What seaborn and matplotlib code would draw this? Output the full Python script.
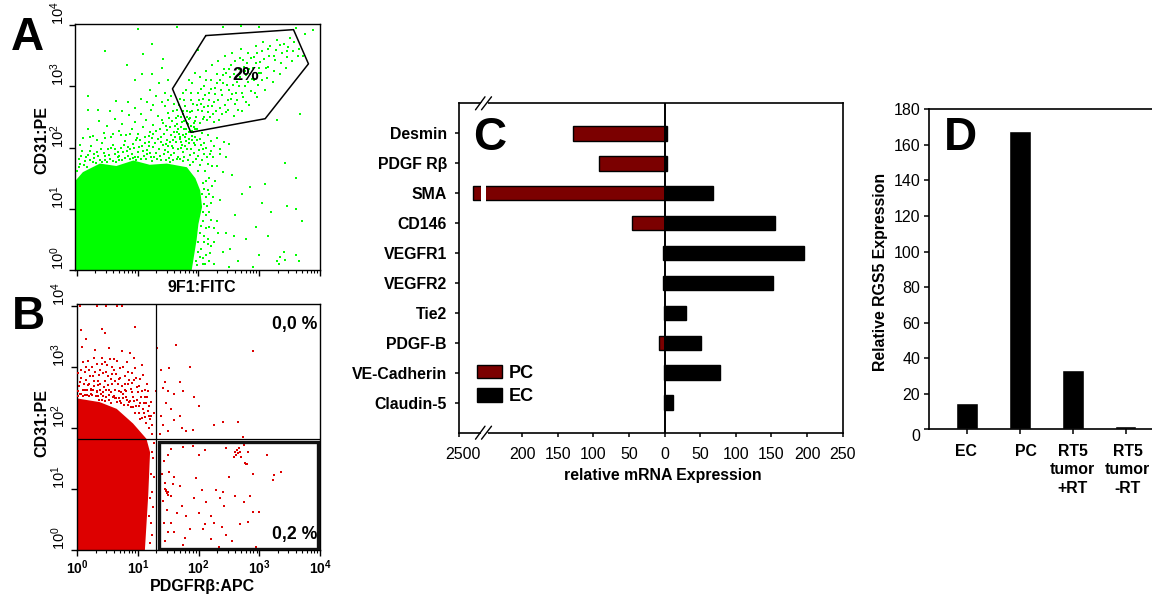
import numpy as np
import pandas as pd
import matplotlib
matplotlib.use("Agg")
import matplotlib.pyplot as plt
import seaborn as sns
from matplotlib.lines import Line2D
from matplotlib.patches import Rectangle
from matplotlib.ticker import FixedLocator, LogLocator, NullFormatter, NullLocator
from matplotlib.transforms import ScaledTranslation

# --- panel A, all values in log10 units ---
a_block_x = [-.03, -.03, .1, .38, .65, .93, 1.2, 1.48, 1.81, 1.95, 2.03, 2.06, 2.0, 1.97, 1.89, -.03]
a_block_y = [0, 1.45, 1.6, 1.74, 1.7, 1.79, 1.72, 1.74, 1.68, 1.5, 1.3, 1.03, .75, .49, 0, 0]
a_gate_x = [2.122, 3.564, 3.81, 3.098, 1.875, 1.573]
a_gate_y = [3.832, 3.929, 3.37, 2.473, 2.25, 2.962]
a_band = [(.03,1.82),(.08,1.95),(.13,1.78),(.19,1.88),(.24,2.02),(.29,1.83),(.33,1.93),(.38,1.79),(.42,2.08),(.47,1.87),
          (.51,1.97),(.55,1.81),(.6,2.05),(.63,1.9),(.68,1.84),(.72,2.0),(.76,1.93),(.8,2.11),(.84,1.86),(.88,1.98),
          (.92,2.06),(.96,1.84),(1.0,1.93),(1.04,2.13),(1.07,2.02),(1.11,1.87),(1.15,1.96),(1.19,2.09),(1.22,1.84),(1.26,2.01),
          (1.3,1.92),(1.33,2.14),(1.37,1.86),(1.41,2.05),(1.45,1.96),(1.49,2.12),(1.52,1.83),(1.56,2.02),(1.6,1.92),(1.63,2.1),
          (1.67,1.85),(1.71,2.0),(1.75,1.93),(1.79,2.11),(1.83,1.8),(1.87,1.97),(1.91,1.76),(1.95,2.04),(1.99,1.87),(2.03,1.72),
          (2.07,1.98),(2.11,1.62),(2.14,1.84),(2.18,1.5),(2.22,1.7),(.1,2.15),(.19,2.3),(.27,2.19),(.36,2.43),(.44,2.24),
          (.5,2.36),(.57,2.18),(.63,2.47),(.69,2.27),(.75,2.38),(.81,2.2),(.86,2.53),(.9,2.3),(.95,2.42),(1.0,2.22),
          (1.05,2.55),(1.09,2.33),(1.14,2.46),(1.18,2.19),(1.22,2.62),(1.26,2.37),(1.3,2.27),(1.34,2.51),(1.38,2.18),(1.42,2.4),
          (1.45,2.68),(1.48,2.29),(1.52,2.48),(1.55,2.2),(1.58,2.6),(1.61,2.36),(1.64,2.25),(1.67,2.52),(1.7,2.17),(1.73,2.42),
          (1.76,2.31),(1.79,2.22),(1.82,2.5),(1.85,2.14),(1.88,2.35),(1.91,2.26),(1.94,2.18),(1.98,2.31),(2.02,2.14),(2.06,2.24),
          (2.1,2.08),(2.15,2.2),(2.2,2.11),(2.26,2.03),(2.3,2.16),(2.36,1.98),(2.42,2.09),(2.5,2.06),(.05,1.74),(.22,1.79),
          (.46,1.8),(.7,1.79),(.98,1.79),(1.24,1.78),(1.54,1.77),(1.74,1.78),(1.86,1.72),(2.0,1.62),(2.08,1.42),(2.12,1.2),
          (1.44,2.22),(1.5,2.03),(1.58,2.12),(1.66,2.3),(1.72,2.1),(1.78,2.02),(1.84,2.26),(1.9,2.12),(1.36,2.3),(1.2,2.25)]
a_band_dense = [(.01,1.62),(.04,1.68),(.07,1.86),(.11,1.72),(.15,1.84),(.17,1.69),(.21,1.95),(.26,1.76),(.28,1.9),(.31,1.75),
                (.35,1.86),(.39,1.98),(.41,1.77),(.44,1.92),(.49,1.76),(.53,1.88),(.56,2.0),(.59,1.78),(.62,1.97),(.65,1.77),
                (.67,1.93),(.7,1.86),(.74,1.8),(.77,2.05),(.79,1.83),(.82,1.95),(.85,2.01),(.87,1.81),(.9,1.9),(.93,1.83),
                (.94,2.0),(.97,2.12),(1.01,1.85),(1.03,2.01),(1.06,1.82),(1.09,1.95),(1.12,2.08),(1.13,1.81),(1.16,1.9),(1.18,2.02),
                (1.21,1.92),(1.24,2.16),(1.27,1.85),(1.29,2.07),(1.32,1.82),(1.35,1.98),(1.38,2.1),(1.39,1.8),(1.43,1.9),(1.46,2.06),
                (1.47,1.8),(1.5,1.93),(1.53,2.09),(1.55,1.88),(1.58,1.8),(1.59,2.0),(1.62,2.18),(1.64,1.82),(1.66,1.97),(1.69,2.14),
                (1.7,1.82),(1.73,2.05),(1.77,1.84),(1.78,2.18),(1.81,1.98),(1.84,2.07),(1.86,1.88),(1.89,2.19),(1.92,1.92),(1.93,2.08),
                (1.96,1.82),(1.98,2.13),(2.01,1.96),(2.04,2.05),(2.06,1.8),(2.09,1.9),(2.13,2.0),(2.16,1.74),(2.19,1.9),(2.24,1.85),
                (1.4,2.45),(1.46,2.36),(1.5,2.57),(1.54,2.33),(1.57,2.43),(1.6,2.25),(1.63,2.48),(1.65,2.39),(1.68,2.22),(1.71,2.33),
                (1.74,2.55),(1.75,2.21),(1.77,2.44),(1.8,2.3),(1.81,2.6),(1.83,2.38),(1.86,2.48),(1.89,2.28),(1.92,2.4),(1.95,2.3),
                (1.25,2.22),(1.12,2.18),(.99,2.16),(.87,2.23),(.72,2.2),(.6,2.22),(.47,2.16),(.33,2.12),(.22,2.17),(.06,2.05)]
a_upper = [(.19,2.84),(.18,2.62),(.47,3.58),(1.01,3.94),(.83,3.35),(1.23,3.7),(1.09,3.53),(1.41,3.45),(.65,2.77),(.96,3.1),
           (1.07,3.2),(1.23,3.2),(1.4,3.3),(1.35,3.05),(1.3,2.85),(1.2,2.95),(1.15,2.75),(1.45,2.9),(1.5,3.1),(1.25,2.7),
           (1.05,2.8),(.95,2.65),(.85,2.75),(.75,2.6),(1.55,2.85),(1.6,2.72),(1.5,2.78),(1.4,2.74),(.55,2.6),(.35,2.62),
           (1.65,3.98),(2.4,3.97),(2.7,3.99),(3.0,3.98),(3.75,3.85),(3.88,3.92),(3.6,3.95),(2.0,3.6)]
a_gate_dots = [(1.65,2.62),(1.7,2.8),(1.72,2.5),(1.78,2.68),(1.8,2.95),(1.82,2.4),(1.86,2.58),(1.88,2.78),(1.9,3.05),(1.92,2.34),
               (1.96,2.5),(1.97,2.7),(2.0,2.9),(2.02,3.15),(2.03,2.4),(2.06,2.6),(2.08,2.8),(2.1,3.0),(2.12,3.25),(2.14,2.46),
               (2.16,2.68),(2.18,2.9),(2.2,3.1),(2.22,3.35),(2.24,2.55),(2.26,2.75),(2.28,2.98),(2.3,3.2),(2.32,3.42),(2.34,2.45),
               (2.36,2.65),(2.38,2.86),(2.4,3.05),(2.42,3.28),(2.44,3.5),(2.46,2.58),(2.48,2.78),(2.5,2.95),(2.52,3.15),(2.54,3.35),
               (2.56,3.55),(2.58,2.52),(2.6,2.72),(2.62,2.9),(2.64,3.08),(2.66,3.28),(2.68,3.46),(2.7,3.62),(2.72,2.6),(2.74,2.82),
               (2.76,3.0),(2.78,3.18),(2.8,3.38),(2.82,3.54),(2.84,2.7),(2.86,2.92),(2.88,3.12),(2.9,3.3),(2.92,3.48),(2.94,3.66),
               (2.96,2.82),(2.98,3.02),(3.0,3.22),(3.02,3.4),(3.04,3.58),(3.06,3.72),(3.1,2.95),(3.12,3.14),(3.14,3.32),(3.16,3.5),
               (3.18,3.66),(3.22,3.08),(3.24,3.26),(3.26,3.44),(3.28,3.6),(3.3,3.76),(3.34,3.2),(3.36,3.38),(3.38,3.55),(3.4,3.7),
               (3.44,3.3),(3.46,3.48),(3.48,3.64),(3.5,3.8),(3.54,3.42),(3.56,3.58),(3.58,3.72),(3.64,3.5),(3.66,3.62),(3.72,3.5),
               (1.9,2.6),(2.05,2.72),(2.15,2.58),(2.25,2.42),(2.35,3.1),(2.45,3.22),(2.55,2.88),(2.65,2.62),(2.75,3.32),(2.85,3.2),
               (2.95,3.38),(3.05,3.1),(3.15,3.62),(3.25,3.5),(3.35,3.68),(3.45,3.58),(1.75,2.9),(1.85,3.1),(1.95,3.22),(2.1,2.5),
               (1.68,2.7),(1.74,2.6),(1.76,2.78),(1.84,2.47),(1.87,2.9),(1.91,2.72),(1.94,2.44),(1.99,2.62),(2.01,2.78),(2.04,2.96),
               (2.07,2.47),(2.09,2.66),(2.11,2.86),(2.13,3.1),(2.17,2.78),(2.19,2.5),(2.21,2.96),(2.23,2.68),(2.27,2.88),(2.29,2.6),
               (2.31,3.05),(2.33,2.78),(2.37,2.95),(2.39,2.55),(2.41,3.18),(2.43,2.7),(2.47,3.02),(2.49,2.62),(2.51,3.28),(2.53,2.8),
               (2.57,3.02),(2.59,3.2),(2.61,3.42),(2.63,2.78),(2.67,3.0),(2.69,3.16),(2.71,2.9),(2.73,3.44),(2.77,3.25),(2.79,2.74),
               (2.81,3.08),(2.83,3.28),(2.87,3.46),(2.91,3.1),(2.93,2.9),(2.97,3.55),(2.99,3.3),(3.03,3.22),(3.08,3.45),(3.11,3.3)]
a_right = [(2.15,1.3),(2.2,1.1),(2.12,.9),(2.18,.7),(2.1,.55),(2.2,.4),(2.13,.25),(2.25,.1),(2.08,.1),(2.3,.8),
           (2.35,1.15),(2.28,1.45),(2.4,1.6),(2.45,.6),(2.52,.35),(2.6,.9),(2.65,.15),(2.72,1.25),(2.78,.5),(2.85,1.35),
           (2.9,.05),(2.95,.7),(3.0,.25),(3.05,1.1),(3.1,1.4),(3.15,.55),(3.2,.95),(3.3,.15),(3.33,.1),(3.4,.3),
           (3.35,.22),(3.42,.17),(3.45,1.05),(3.6,1.0),(3.6,.25),(3.65,.15),(3.7,.8),(3.6,1.5),(3.42,1.75),(3.3,2.46),
           (3.67,2.55),(2.55,1.55),(2.35,1.9),(2.45,1.85),(2.2,1.95),(2.3,1.7),(2.25,.45),(2.4,.3),(2.5,.05),(2.32,.6),
           (2.17,.15),(2.58,.55),(2.05,.35),(2.08,.8),(2.12,1.45),(2.03,.6),(2.06,1.25),(2.09,1.08),(2.1,1.32),(2.14,1.05),
           (2.07,.95),(2.13,.68),(2.05,.72),(2.09,.45),(2.15,.42),(2.03,.22),(2.07,.2),(2.11,.1),(2.16,.5),(1.99,.3),
           (1.96,.15),(1.98,.08),(2.0,.45),(2.18,1.25),(2.22,1.38),(2.24,1.2),(2.17,.95),(2.21,.82),(2.26,.68),(2.19,.28)]

# --- panel B, log10 units ---
b_block_x = [0, 0, .37, .65, .92, 1.14, 1.2, 1.17, 1.115, 0]
b_block_y = [0, 2.48, 2.42, 2.31, 2.07, 1.82, 1.6, .9, 0, 0]
b_split = (19.8, 65)
b_box = (22.4, 1.05, 9300, 59)
b_left = [(.02,2.6),(.06,2.95),(.1,2.52),(.14,2.78),(.18,3.1),(.22,2.55),(.26,2.85),(.3,3.28),(.33,2.6),(.37,2.95),
          (.4,3.15),(.43,2.52),(.46,2.76),(.49,3.02),(.52,3.3),(.55,2.58),(.58,2.88),(.61,3.12),(.64,2.48),(.67,2.72),
          (.7,2.98),(.73,3.25),(.76,2.55),(.79,2.84),(.82,3.08),(.85,2.42),(.88,2.64),(.91,2.9),(.94,3.15),(.97,2.35),
          (1.0,2.58),(1.03,2.8),(1.06,3.02),(1.09,2.3),(1.12,2.5),(1.15,2.72),(1.18,2.2),(1.21,2.42),(1.24,2.05),(1.27,2.25),
          (.04,2.75),(.08,3.32),(.12,2.92),(.16,2.62),(.2,2.72),(.24,3.0),(.28,2.68),(.32,3.04),(.35,2.76),(.39,2.55),
          (.42,2.9),(.45,3.08),(.48,2.62),(.51,2.85),(.54,3.12),(.57,2.72),(.6,2.95),(.63,2.62),(.66,3.1),(.69,2.8),
          (.72,2.58),(.75,3.0),(.78,2.72),(.81,2.5),(.84,2.92),(.87,3.22),(.9,2.58),(.93,2.78),(.96,2.98),(.99,2.45),
          (1.02,2.68),(1.05,2.5),(1.08,2.86),(1.11,2.62),(1.14,2.4),(1.17,2.6),(1.2,2.15),(1.23,1.9),(1.26,1.75),(1.25,1.5),
          (1.26,1.2),(1.24,.95),(1.25,.7),(1.22,.45),(1.24,.25),(1.2,.12),(1.18,.55),(1.2,.85),(1.21,1.25),(1.23,1.6),
          (.05,3.99),(.32,3.99),(.48,3.99),(.65,3.99),(.74,3.99),(.07,3.6),(.15,3.45),(.4,3.62),(.45,3.55),(.95,3.65)]
b_left_dense = [(.01,2.52),(.03,2.68),(.05,2.56),(.07,2.82),(.09,2.62),(.11,2.72),(.13,2.54),(.15,3.0),(.17,2.7),(.19,2.52),
                (.21,2.85),(.23,2.64),(.25,2.54),(.27,2.76),(.29,2.92),(.31,2.52),(.34,2.7),(.36,2.86),(.38,2.62),(.41,2.46),
                (.44,2.66),(.47,2.5),(.5,2.7),(.53,2.46),(.56,2.8),(.59,2.5),(.62,2.76),(.65,2.42),(.68,2.6),(.71,2.44),
                (.74,2.68),(.77,2.38),(.8,2.6),(.83,2.38),(.86,2.78),(.89,2.34),(.92,2.5),(.95,2.24),(.98,2.66),(1.01,2.24),
                (1.04,2.4),(1.07,2.16),(1.1,2.4),(1.13,2.08),(1.16,2.28),(1.19,2.0),(1.22,2.2),(.02,2.9),(.1,3.08),(.2,2.95),
                (.28,3.15),(.34,2.52),(.37,2.72),(.41,3.05),(.47,2.92),(.53,2.62),(.57,3.0),(.6,2.52),(.64,2.88),(.68,2.48),
                (.71,2.82),(.75,2.48),(.79,2.62),(.83,2.72),(.87,2.44),(.9,2.74),(.94,2.44),(.97,2.82),(1.02,2.36),(1.06,2.6),
                (1.1,2.24),(1.15,2.5),(1.18,2.36),(.12,2.62),(.22,2.62),(.32,2.58),(.42,2.58),(.52,2.54),(.62,2.48),(.72,2.4),
                (.82,2.46),(.92,2.34),(1.03,2.14),(1.12,2.18),(.06,2.55),(.16,2.53),(.26,2.62),(.36,2.46),(.46,2.44),(.56,2.4)]
b_upper = [(1.36,1.9),(1.42,2.05),(1.5,1.95),(1.46,2.4),(1.38,2.2),(1.55,2.3),(1.6,2.55),(1.7,2.2),(1.72,2.0),(1.8,1.95),
           (1.92,2.5),(1.85,3.0),(1.62,3.35),(1.52,2.98),(1.45,2.75),(1.7,2.75),(1.75,2.6),(1.6,2.12),(2.0,2.35),(2.25,2.05),
           (2.4,2.1),(2.65,2.1),(2.73,1.85),(2.9,3.25),(1.9,1.97),(1.3,2.6),(1.32,3.3),(1.38,2.95),(1.42,2.65),(1.5,2.6)]
b_lower = [(2.6,1.6),(2.63,1.63),(2.65,1.58),(2.66,1.67),(2.68,1.6),(2.62,1.55),(2.58,1.52),(2.7,1.53),(2.76,1.42),(2.78,1.4),
           (2.8,1.41),(2.82,1.6),(2.75,1.72),(2.8,1.76),(3.13,1.55),(3.35,1.27),(3.25,1.22),(3.22,1.15),(2.9,1.25),(2.45,1.67),
           (2.1,1.63),(2.0,1.55),(1.9,1.7),(1.75,1.68),(1.55,1.65),(1.5,1.55),(1.43,1.45),(1.4,1.25),(1.45,1.1),(1.5,.95),
           (1.42,.8),(1.48,.65),(1.43,.45),(1.5,.3),(1.45,.15),(1.55,.45),(1.6,.3),(1.52,1.28),(1.58,1.08),(1.55,.88),
           (1.45,1.0),(1.46,.98),(1.47,.96),(1.48,.93),(1.49,.9),(1.6,1.2),(1.7,1.05),(1.72,.72),(1.8,.55),(1.78,.2),
           (1.85,.35),(1.92,.85),(1.95,1.18),(2.0,.6),(2.05,.98),(2.08,.35),(2.12,.78),(2.2,.55),(2.25,.45),(2.35,.85),
           (2.33,.05),(2.38,.38),(2.4,.95),(2.45,.25),(2.5,1.2),(2.55,.14),(2.6,.88),(2.68,.42),(2.75,.78),(2.82,.46),
           (2.85,.88),(2.9,.62),(2.95,.05),(3.0,.62),(1.75,.08),(2.1,.42),(1.65,.6),(2.42,.72),(2.2,.18),(2.28,.98)]

# --- panel C ---
genes = ["Desmin", "PDGF R\u03b2", "SMA", "CD146", "VEGFR1", "VEGFR2", "Tie2", "PDGF-B", "VE-Cadherin", "Claudin-5"]
pc_values = [128, 92, 2370, 45.5, 2, 2, 1, 7.6, 1, 1]
ec_values = [3, 3, 67.4, 155, 195.7, 152.6, 30, 50.5, 77.7, 12]
c_ticks = [-2500, -200, -150, -100, -50, 0, 50, 100, 150, 200, 250]
c_ticklabels = ["2500", "200", "150", "100", "50", "0", "50", "100", "150", "200", "250"]

# --- panel D ---
samples = ["EC", "PC", "RT5\ntumor\n+RT", "RT5\ntumor\n-RT"]
rgs5_values = [14.6, 167.8, 33.4, 1.9]
d_yticks = [0, 20, 40, 60, 80, 100, 120, 140, 160, 180]

sns.set_style("ticks")
plt.rcParams["font.family"] = ["Liberation Sans", "DejaVu Sans"]
plt.rcParams["mathtext.fontset"] = "custom"
plt.rcParams["mathtext.rm"] = "Liberation Sans"
plt.rcParams["mathtext.bf"] = "Liberation Sans:bold"
plt.rcParams["mathtext.default"] = "regular"
plt.rcParams["text.color"] = "black"
plt.rcParams["axes.labelcolor"] = "black"
plt.rcParams["xtick.color"] = "black"
plt.rcParams["ytick.color"] = "black"

W, H = 1152, 597
fig = plt.figure(figsize=(W / 100, H / 100), dpi=100)
GREEN = "#00FF00"
RED = "#DD0000"
MAROON = "#7B0000"


def axes_px(left, top, right, bottom):
    return fig.add_axes([left / W, 1 - bottom / H, (right - left) / W, (bottom - top) / H])


def text_px(x, y, s, **kw):
    kw.setdefault("ha", "center")
    kw.setdefault("va", "center")
    kw.setdefault("fontweight", "bold")
    fig.text(x / W, 1 - y / H, s, **kw)


def line_px(xs, ys, **kw):
    fig.add_artist(Line2D([x / W for x in xs], [1 - y / H for y in ys], **kw))


def shift(label, dx=0, dy=0):
    label.set_transform(label.get_transform() + ScaledTranslation(dx / 100, dy / 100, fig.dpi_scale_trans))


def dots(ax, pairs, color):
    arr = 10 ** np.array(pairs)
    sns.scatterplot(x=arr[:, 0], y=arr[:, 1], ax=ax, color=color, marker="s", s=3.5, linewidth=0, zorder=3)


def flow_axes(ax, xlim_low, xlabels):
    ax.set_xscale("log")
    ax.set_yscale("log")
    ax.set_xlim(xlim_low, 1e4)
    ax.set_ylim(1, 1.05e4)
    ax.xaxis.set_major_locator(FixedLocator([1, 10, 100, 1000, 10000]))
    ax.xaxis.set_minor_locator(LogLocator(base=10, subs=range(2, 10), numticks=10))
    ax.xaxis.set_minor_formatter(NullFormatter())
    ax.yaxis.set_major_locator(FixedLocator([1, 10, 100, 1000, 10000]))
    ax.yaxis.set_minor_locator(NullLocator())
    ax.set_yticklabels([f"$10^{{{i}}}$" for i in range(5)], rotation=90, fontsize=10.5)
    for lab in ax.get_yticklabels():
        lab.set_verticalalignment("bottom")
        shift(lab, 0, -4)
    if xlabels:
        ax.set_xticklabels([f"$\\mathbf{{10^{{{i}}}}}$" for i in range(5)], fontsize=10)
    else:
        ax.set_xticklabels([])
    ax.tick_params(axis="both", which="major", length=4, width=1, color="black", pad=2)
    ax.tick_params(axis="x", which="minor", length=2.5, width=0.8, color="black")
    for sp in ax.spines.values():
        sp.set_visible(True)
        sp.set_linewidth(1.0)
        sp.set_color("black")


# panel A
ax_a = axes_px(75, 24, 320, 270)
ax_a.fill(10 ** np.array(a_block_x), 10 ** np.array(a_block_y), color=GREEN, lw=0, zorder=2)
for pts in [a_band, a_band_dense, a_upper, a_gate_dots, a_right]:
    dots(ax_a, pts, GREEN)
gate_x = 10 ** np.array(a_gate_x + a_gate_x[:1])
gate_y = 10 ** np.array(a_gate_y + a_gate_y[:1])
ax_a.plot(gate_x, gate_y, color="black", lw=1.1, zorder=4)
flow_axes(ax_a, 10 ** -0.03, False)
text_px(246, 75, "2%", fontsize=13.3, zorder=6)
text_px(42, 140, "CD31:PE", rotation=90, fontsize=11.5)
text_px(201.7, 287, "9F1:FITC", fontsize=11.5)

# panel B
ax_b = axes_px(76.7, 304.3, 320, 550)
ax_b.fill(10 ** np.array(b_block_x), 10 ** np.array(b_block_y), color=RED, lw=0, zorder=2)
for pts in [b_left, b_left_dense, b_upper, b_lower]:
    dots(ax_b, pts, RED)
ax_b.axvline(b_split[0], color="black", lw=0.9, zorder=4)
ax_b.axhline(b_split[1], color="black", lw=0.9, zorder=4)
ax_b.add_patch(Rectangle((b_box[0], b_box[1]), b_box[2] - b_box[0], b_box[3] - b_box[1],
                         fill=False, ec="#111111", lw=2.4, zorder=5))
flow_axes(ax_b, 0.98, True)
text_px(317, 325, "0,0 %", ha="right", fontsize=12.7)
text_px(317, 534, "0,2 %", ha="right", fontsize=12.7)
text_px(42, 423, "CD31:PE", rotation=90, fontsize=11.5)
text_px(202.7, 586.7, "PDGFR\u03b2:APC", fontsize=11.5)


# panel C, the axis is broken between 250 and 2300
def break_fwd(x):
    x = np.asarray(x, dtype=float)
    return np.where(x >= -250, x, np.where(x >= -2300, -250 + (x + 250) * 8 / 2050, -258 + (x + 2300) * 30 / 200))


def break_inv(v):
    v = np.asarray(v, dtype=float)
    return np.where(v >= -250, v, np.where(v >= -258, -250 + (v + 250) * 2050 / 8, -2300 + (v + 258) * 200 / 30))


ax_c = axes_px(459.3, 103.3, 842.7, 432.7)
df_c = pd.DataFrame({
    "gene": genes * 2,
    "value": [-v for v in pc_values] + ec_values,
    "cell": ["PC"] * len(genes) + ["EC"] * len(genes),
})
sns.barplot(data=df_c, y="gene", x="value", hue="cell", order=genes, hue_order=["PC", "EC"], dodge=False,
            palette={"PC": MAROON, "EC": "black"}, orient="h", width=0.49, edgecolor="black", linewidth=1.0,
            saturation=1, ax=ax_c, zorder=2)
ax_c.set_xscale("function", functions=(break_fwd, break_inv))
ax_c.set_xlim(-2500, 250)
ax_c.set_ylim(10, -1)
ax_c.axvspan(-2300, -250, color="white", lw=0, zorder=3)
ax_c.axvline(0, color="black", lw=1.4, zorder=4)
ax_c.set_xticks(c_ticks)
ax_c.set_xticklabels(c_ticklabels, fontsize=11.5)
ax_c.xaxis.set_minor_locator(NullLocator())
ax_c.set_yticks(range(len(genes)))
ax_c.set_yticklabels(genes, fontsize=11.4, fontweight="bold")
ax_c.set_xlabel("")
ax_c.set_ylabel("")
ax_c.tick_params(axis="x", length=3, width=1.1, color="black", pad=7)
ax_c.tick_params(axis="y", length=3, width=1.1, color="black", pad=6)
shift(ax_c.get_xticklabels()[0], 4, 0)
for sp in ax_c.spines.values():
    sp.set_visible(True)
    sp.set_linewidth(1.2)
    sp.set_color("black")
handles, labels = ax_c.get_legend_handles_labels()
ax_c.legend(handles, labels, loc="lower left", bbox_to_anchor=(477 / W, 1 - 405 / H), bbox_transform=fig.transFigure,
            frameon=False, borderpad=0, borderaxespad=0, handlelength=1.39, handleheight=0.78, labelspacing=0.33,
            handletextpad=0.36, prop={"weight": "bold", "size": 13, "family": "Liberation Sans"})
for y0, y1 in [(103.3, 103.3), (432.7, 432.7)]:
    line_px([481.5, 486], [y0, y1], color="white", lw=2.2, zorder=10)
    line_px([475.5, 485], [y0 + 6.5, y1 - 6.5], color="black", lw=1.0, zorder=11)
    line_px([481.5, 491.5], [y0 + 6.5, y1 - 6.5], color="black", lw=1.0, zorder=11)
text_px(662.7, 475.7, "relative mRNA Expression", fontsize=11.4)
text_px(490, 137.5, "C", fontsize=33, zorder=12)

# panel D
ax_d = axes_px(929.3, 109.3, 1152, 429.3)
df_d = pd.DataFrame({"sample": samples, "value": rgs5_values})
sns.barplot(data=df_d, x="sample", y="value", order=samples, color="black", saturation=1, width=0.41, ax=ax_d)
ax_d.set_xlim(-0.714, 3.5)
ax_d.set_ylim(0, 180)
ax_d.set_yticks(d_yticks)
ax_d.set_yticklabels(d_yticks, fontsize=11.5)
ax_d.set_xticks(range(len(samples)))
ax_d.set_xticklabels(samples, fontsize=11.4, fontweight="bold", linespacing=1.3)
ax_d.set_xlabel("")
ax_d.set_ylabel("")
ax_d.tick_params(axis="x", length=3.5, width=1.1, color="black", pad=7)
ax_d.tick_params(axis="y", length=3.5, width=1.1, color="black", pad=3)
for sp in ["left", "top", "bottom"]:
    ax_d.spines[sp].set_visible(True)
    ax_d.spines[sp].set_linewidth(1.2)
    ax_d.spines[sp].set_color("black")
ax_d.spines["right"].set_visible(False)
for lab, dx in zip(ax_d.get_xticklabels(), [-1, 6, 0, 2]):
    shift(lab, dx, 0)
shift(ax_d.get_yticklabels()[0], 0, -6)
text_px(880, 271.7, "Relative RGS5 Expression", rotation=90, fontsize=11.4)
text_px(960, 138, "D", fontsize=33, zorder=12)

text_px(27, 38, "A", fontsize=33)
text_px(28, 317, "B", fontsize=33)

fig.savefig("out.png", dpi=100)
